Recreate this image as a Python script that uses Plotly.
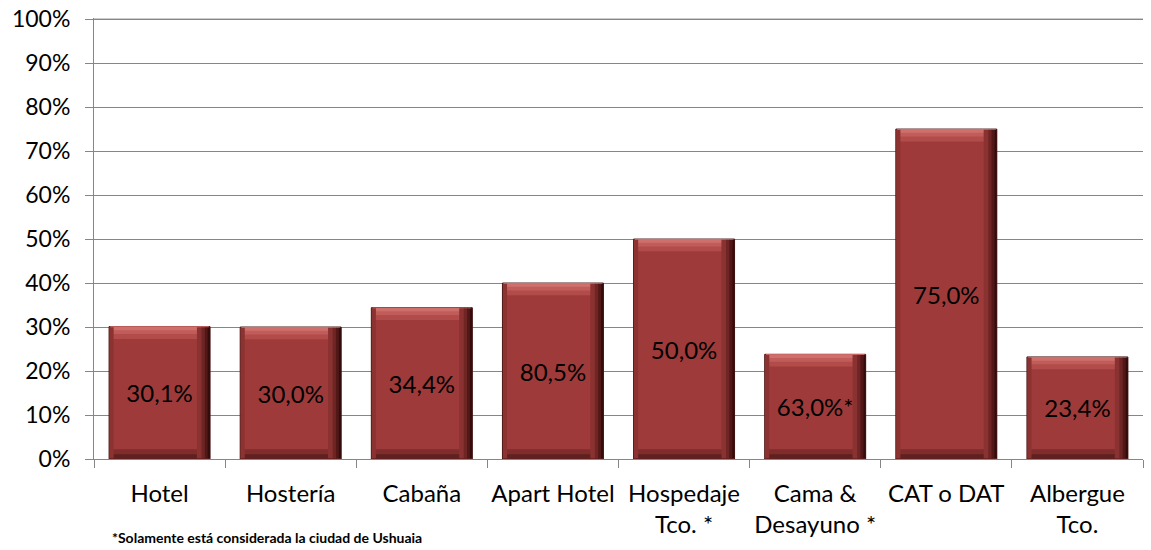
import plotly.graph_objects as go

categories = ["Hotel", "Hostería", "Cabaña", "Apart Hotel", "Hospedaje<br>Tco. *",
              "Cama &<br>Desayuno *", "CAT o DAT", "Albergue<br>Tco."]
bar_values = [30.1, 30.0, 34.4, 40.0, 50.0, 23.8, 75.0, 23.2]
label_texts = ["30,1%", "30,0%", "34,4%", "80,5%", "50,0%", "63,0%*", "75,0%", "23,4%"]
y_ticks = [0, 10, 20, 30, 40, 50, 60, 70, 80, 90, 100]
y_tick_labels = [f"{t}%" for t in y_ticks]
footnote = "*Solamente está considerada la ciudad de Ushuaia"

FONT = "Lato, Carlito, Calibri, sans-serif"
BAR_W = 0.77
MAIN = "#9E3B3A"
GRID = "#868686"

fig = go.Figure()

# main bars
fig.add_trace(go.Bar(
    x=categories, y=bar_values, width=BAR_W,
    marker=dict(color=MAIN, line=dict(color="#4A1514", width=1)),
    text=label_texts, textposition="inside", insidetextanchor="middle",
    constraintext="none",
    textfont=dict(family=FONT, size=24, color="#000000"),
    hoverinfo="skip", showlegend=False,
))

# bevel: top highlight bands
top_h = 2.8
for h, col in [(top_h, "#B24C4A"), (top_h * 0.6, "#C05C5A"), (top_h * 0.3, "#CF6F6C")]:
    fig.add_trace(go.Bar(
        x=categories, y=[h] * len(bar_values), base=[v - h for v in bar_values],
        width=BAR_W - 0.02,
        marker=dict(color=col, line=dict(width=0)),
        hoverinfo="skip", showlegend=False,
    ))
# bevel: bottom dark bands
for h, col in [(2.2, "#7E2D2C"), (1.1, "#60201F")]:
    fig.add_trace(go.Bar(
        x=categories, y=[h] * len(bar_values), base=[0] * len(bar_values),
        width=BAR_W - 0.02,
        marker=dict(color=col, line=dict(width=0)),
        hoverinfo="skip", showlegend=False,
    ))
# bevel: right dark edges
for off, w, col in [(BAR_W / 2 - 0.10, 0.04, "#8A3231"),
                    (BAR_W / 2 - 0.065, 0.03, "#6E2524"),
                    (BAR_W / 2 - 0.04, 0.025, "#511817"),
                    (BAR_W / 2 - 0.018, 0.018, "#330C0B")]:
    fig.add_trace(go.Bar(
        x=categories, y=[v - 0.3 for v in bar_values], base=[0.15] * len(bar_values),
        width=w, offset=off,
        marker=dict(color=col, line=dict(width=0)),
        hoverinfo="skip", showlegend=False,
    ))
# bevel: left slight shade
fig.add_trace(go.Bar(
    x=categories, y=[v - 0.3 for v in bar_values], base=[0.15] * len(bar_values),
    width=0.03, offset=-BAR_W / 2 + 0.005,
    marker=dict(color="#8C3332", line=dict(width=0)),
    hoverinfo="skip", showlegend=False,
))

fig.update_layout(
    width=1151, height=550,
    barmode="overlay",
    paper_bgcolor="#FFFFFF", plot_bgcolor="#FFFFFF",
    margin=dict(l=94, r=8, t=18, b=91, autoexpand=False),
    font=dict(family=FONT, size=22, color="#000000"),
    showlegend=False,
    xaxis=dict(
        type="category", automargin=False, tickangle=0,
        showline=True, linecolor=GRID, linewidth=1,
        ticks="outside", tickson="boundaries", ticklen=8, tickcolor=GRID,
        ticklabelstandoff=13,
        tickfont=dict(family=FONT, size=24, color="#000000"),
        showgrid=False,
    ),
    yaxis=dict(
        range=[0, 100.25], automargin=False,
        tickvals=y_ticks, ticktext=y_tick_labels,
        ticklabeloverflow="allow",
        showline=True, linecolor=GRID, linewidth=1,
        ticks="outside", ticklen=8, tickcolor=GRID,
        ticklabelstandoff=10,
        showgrid=True, gridcolor=GRID, gridwidth=1,
        zeroline=False,
        tickfont=dict(family=FONT, size=23, color="#000000"),
    ),
    shapes=[dict(type="line", xref="paper", yref="y", x0=0, x1=1, y0=y_ticks[-1], y1=y_ticks[-1],
                 line=dict(color=GRID, width=1), layer="below")],
    annotations=[dict(
        text=f"<b>{footnote}</b>", xref="paper", yref="paper",
        x=0.0153, y=-0.179, xanchor="left", yanchor="middle",
        showarrow=False, font=dict(family=FONT, size=14, color="#000000"),
    )],
)

fig.write_html("out.html", config={"displayModeBar": False},
               post_script="document.body.style.margin='0';")
